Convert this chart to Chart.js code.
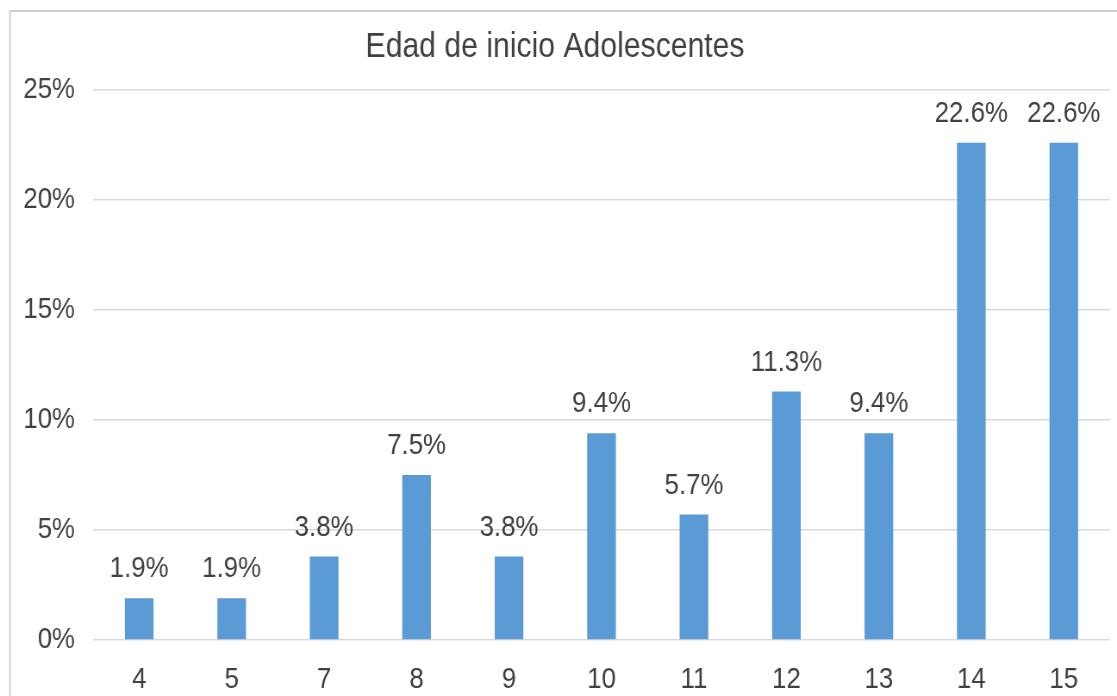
<!DOCTYPE html>
<html lang="es">
<head>
    <meta charset="UTF-8">
    <script src="https://cdn.jsdelivr.net/npm/chart.js"></script>
    <title>Edad de inicio Adolescentes</title>
    <style>
        html, body { margin: 0; padding: 0; background: #fff; overflow: hidden; }
        .wrap { width: 1117px; height: 696px; }
        /* el original esta algo comprimido en horizontal: se dibuja mas ancho y se encoge */
        #edadChart { width: 1117px; height: 696px; display: block; }
    </style>
</head>
<body>
    <div class="wrap">
        <canvas id="edadChart" style="width:1117px;height:696px;"></canvas>
    </div>
    <script>
        // datos
        var edades = ['4', '5', '7', '8', '9', '10', '11', '12', '13', '14', '15'];
        var porcentajes = [1.9, 1.9, 3.8, 7.5, 3.8, 9.4, 5.7, 11.3, 9.4, 22.6, 22.6];
        var ticksY = [0, 5, 10, 15, 20, 25];
        var titulo = 'Edad de inicio Adolescentes';

        var k = 1.16; // factor de compresion horizontal
        var textColor = '#404040';
        var fuente = 'Liberation Sans, Arial, sans-serif';

        var canvas = document.getElementById('edadChart');
        canvas.width = Math.round(1117 * k);
        canvas.height = 696;

        // marco gris (solo se ve arriba e izquierda)
        const marco = {
            id: 'marco',
            beforeDraw(chart) {
                const ctx = chart.ctx;
                ctx.save();
                ctx.strokeStyle = '#cfcfcf';
                ctx.lineWidth = 2;
                ctx.beginPath();
                ctx.moveTo(10 * k, chart.height);
                ctx.lineTo(10 * k, 11);
                ctx.lineTo(chart.width, 11);
                ctx.stroke();
                ctx.restore();
            }
        };

        // etiquetas de valor encima de las barras
        const etiquetas = {
            id: 'etiquetas',
            afterDatasetsDraw(chart) {
                const ctx = chart.ctx;
                const meta = chart.getDatasetMeta(0);
                ctx.save();
                ctx.fillStyle = textColor;
                ctx.font = '30px ' + fuente;
                ctx.textAlign = 'center';
                ctx.textBaseline = 'middle';
                meta.data.forEach(function (bar, i) {
                    ctx.fillText(porcentajes[i].toFixed(1) + '%', bar.x, bar.y - 29);
                });
                ctx.restore();
            }
        };

        const data = {
            labels: edades,
            datasets: [{
                data: porcentajes,
                backgroundColor: '#5b9bd5',
                categoryPercentage: 1,
                barPercentage: 0.31
            }]
        };

        const config = {
            type: 'bar',
            data: data,
            options: {
                responsive: false,
                animation: false,
                devicePixelRatio: 1,
                layout: { padding: { left: 0, right: 7 * k, top: 0, bottom: 1 } },
                plugins: {
                    legend: { display: false },
                    tooltip: { enabled: false },
                    title: {
                        display: true,
                        text: titulo,
                        color: textColor,
                        font: { family: fuente, size: 35, weight: 'normal' },
                        padding: { top: 26, bottom: 22 }
                    }
                },
                scales: {
                    x: {
                        afterFit: function (scale) { scale.height = 55; },
                        grid: { display: false, drawTicks: false },
                        border: { display: false },
                        ticks: {
                            color: textColor,
                            padding: 22,
                            maxRotation: 0,
                            font: { family: fuente, size: 30 }
                        }
                    },
                    y: {
                        min: 0,
                        max: 25,
                        afterFit: function (scale) { scale.width = 93 * k; },
                        afterBuildTicks: function (scale) {
                            scale.ticks = ticksY.map(function (v) { return { value: v }; });
                        },
                        grid: { color: '#d9d9d9', lineWidth: 1.5, drawTicks: false },
                        border: { display: false },
                        ticks: {
                            color: textColor,
                            padding: 18 * k,
                            font: { family: fuente, size: 30 },
                            callback: function (v) { return v + '%'; }
                        }
                    }
                }
            },
            plugins: [marco, etiquetas]
        };

        const edadChart = new Chart(canvas, config);
    </script>
</body>
</html>
